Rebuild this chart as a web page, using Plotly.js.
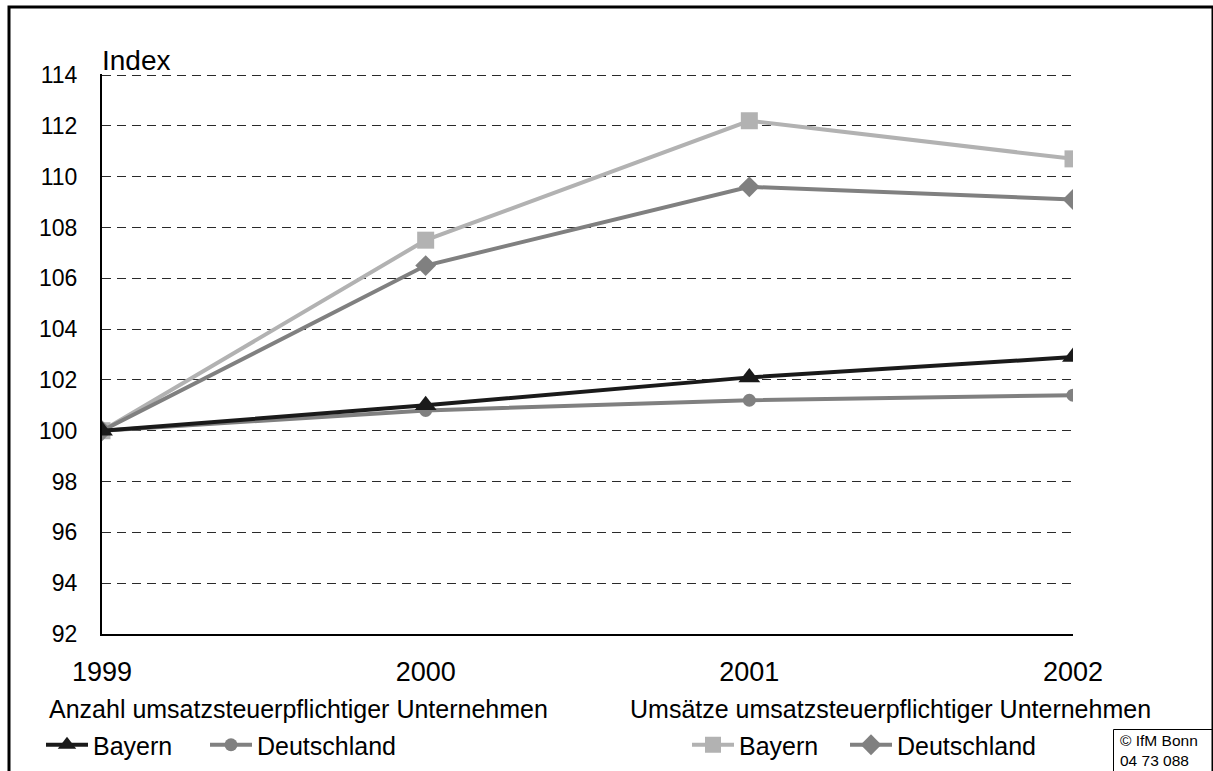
<!DOCTYPE html>
<html>
<head>
<meta charset="utf-8">
<script src="https://cdn.plot.ly/plotly-3.0.1.min.js"></script>
<style>html,body{margin:0;padding:0;background:#fff;}#chart{width:1213px;height:771px;}</style>
</head>
<body>
<div id="chart"></div>
<script>
const years = [1999, 2000, 2001, 2002];
const anzahlBayern = [100, 101.0, 102.1, 102.9];
const anzahlDeutschland = [100, 100.8, 101.2, 101.4];
const umsatzBayern = [100, 107.5, 112.2, 110.7];
const umsatzDeutschland = [100, 106.5, 109.6, 109.1];
const yTicks = [92, 94, 96, 98, 100, 102, 104, 106, 108, 110, 112, 114];
const groupTitles = ['Anzahl umsatzsteuerpflichtiger Unternehmen', 'Umsätze umsatzsteuerpflichtiger Unternehmen'];
const seriesNames = ['Bayern', 'Deutschland'];
const sourceLines = ['© IfM Bonn', '04 73 088'];

const L = 102, R = 1073, T = 74, B = 634;
const px = x => (x - L) / (R - L);
const py = y => (B - y) / (B - T);

const traces = [
  {x: years, y: umsatzBayern, name: seriesNames[0], legend: 'legend3', mode: 'lines+markers',
   line: {color: '#b2b2b2', width: 4}, marker: {symbol: 'square', size: 17, color: '#b2b2b2'}},
  {x: years, y: umsatzDeutschland, name: seriesNames[1], legend: 'legend4', mode: 'lines+markers',
   line: {color: '#808080', width: 4}, marker: {symbol: 'diamond', size: 16, color: '#808080'}},
  {x: years, y: anzahlDeutschland, name: seriesNames[1], legend: 'legend2', mode: 'lines+markers',
   line: {color: '#808080', width: 4}, marker: {symbol: 'circle', size: 13, color: '#808080'}},
  {x: years, y: anzahlBayern, name: seriesNames[0], legend: 'legend', mode: 'lines+markers',
   line: {color: '#1a1a1a', width: 4}, marker: {symbol: 'triangle-up', size: 19, color: '#1a1a1a'}}
];

const font = {family: 'Liberation Sans, Arial, sans-serif', color: '#000'};
const legendAt = x => ({orientation: 'h', x: px(x), xanchor: 'left', y: py(745), yanchor: 'middle',
  font: {size: 25, family: font.family, color: '#000'}, itemwidth: 42, bgcolor: 'rgba(0,0,0,0)'});

const layout = {
  width: 1213, height: 771,
  margin: {l: L, r: 1213 - R, t: T, b: 771 - B, pad: 0, autoexpand: false},
  paper_bgcolor: '#fff', plot_bgcolor: '#fff',
  font: font,
  showlegend: true,
  xaxis: {range: [1999, 2002], tickvals: years, ticktext: years.map(String), showgrid: false,
    zeroline: false, showline: true, linecolor: '#000', linewidth: 2, ticks: '',
    tickfont: {size: 27, family: font.family, color: '#000'}, ticklabelstandoff: 13, automargin: false},
  yaxis: {range: [92, 114.04], tickvals: yTicks, showgrid: true, gridcolor: '#2a2a2a', gridwidth: 1,
    griddash: '9px,6px', zeroline: false, showline: true, linecolor: '#000', linewidth: 2, ticks: '',
    tickfont: {size: 23, family: font.family, color: '#000'}, ticklabelstandoff: 18, automargin: false},
  legend: legendAt(41),
  legend2: legendAt(205),
  legend3: legendAt(687),
  legend4: legendAt(845),
  annotations: [
    {text: 'Index', xref: 'paper', yref: 'paper', x: px(100), y: py(60), xanchor: 'left', yanchor: 'middle',
     showarrow: false, font: {size: 28, family: font.family, color: '#000'}},
    {text: groupTitles[0], xref: 'paper', yref: 'paper', x: px(47), y: py(709), xanchor: 'left', yanchor: 'middle',
     showarrow: false, font: {size: 25, family: font.family, color: '#000'}},
    {text: groupTitles[1], xref: 'paper', yref: 'paper', x: px(628), y: py(709), xanchor: 'left', yanchor: 'middle',
     showarrow: false, font: {size: 25, family: font.family, color: '#000'}},
    {text: sourceLines.join('<br>'), xref: 'paper', yref: 'paper', x: px(1119), y: py(731), xanchor: 'left', yanchor: 'top',
     align: 'left', borderpad: 0, showarrow: false, font: {size: 15.5, family: font.family, color: '#000'}}
  ],
  shapes: [
    {type: 'path', xref: 'paper', yref: 'paper', layer: 'above',
     path: 'M ' + px(9) + ' ' + py(780) + ' L ' + px(9) + ' ' + py(7) + ' L ' + px(1213) + ' ' + py(7) + ' L ' + px(1213) + ' ' + py(780),
     line: {color: '#000', width: 3}},
    {type: 'rect', xref: 'paper', yref: 'paper', layer: 'below',
     x0: px(1113.5), x1: px(1225), y0: py(729.5), y1: py(790), fillcolor: '#fff',
     line: {color: '#000', width: 1}}
  ]
};

Plotly.newPlot('chart', traces, layout, {displayModeBar: false, staticPlot: true});
</script>
</body>
</html>
